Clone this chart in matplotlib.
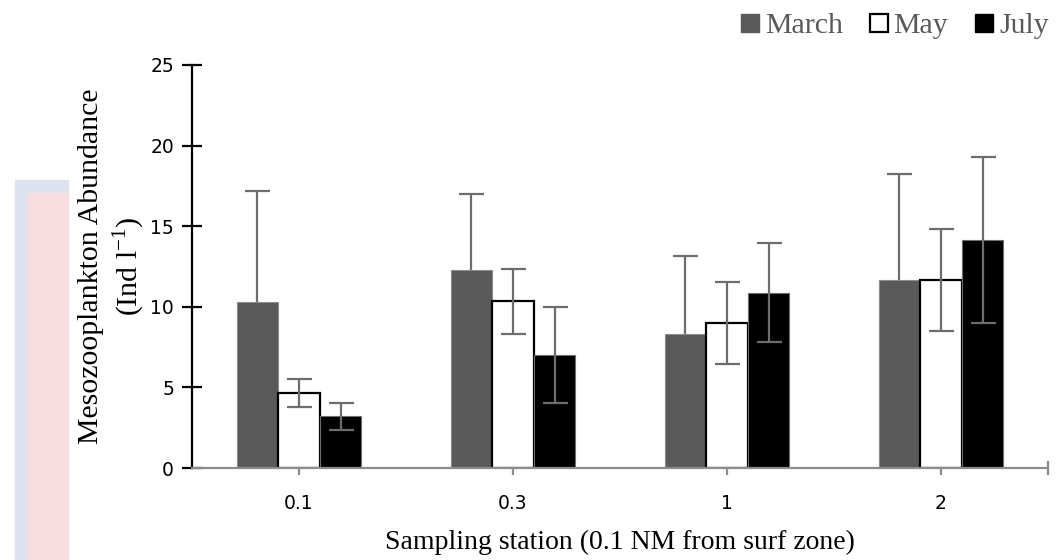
import numpy as np
import matplotlib
matplotlib.use("Agg")
import matplotlib.pyplot as plt
from matplotlib.lines import Line2D
from matplotlib.patches import Rectangle

# data
stations = ["0.1", "0.3", "1", "2"]
months = ["March", "May", "July"]
march = [10.3, 12.3, 8.3, 11.65]
march_err = [6.9, 4.7, 4.85, 6.6]
may = [4.65, 10.33, 9.0, 11.66]
may_err = [0.87, 2.03, 2.52, 3.17]
july = [3.2, 7.0, 10.88, 14.14]
july_err = [0.83, 2.96, 3.08, 5.15]

plt.rcParams['mathtext.fontset'] = 'custom'
plt.rcParams['mathtext.rm'] = 'Liberation Serif'

fig = plt.figure(figsize=(10.63, 5.6), dpi=100)

# faint watermark strip on the left
fig.patches.append(Rectangle((15/1063, 0), 53/1063, 1-180/560, transform=fig.transFigure,
                             color="#dde3ee", zorder=0))
fig.patches.append(Rectangle((27/1063, 0), 41/1063, 1-193/560, transform=fig.transFigure,
                             color="#f8dde0", zorder=0))

ax = fig.add_axes([192/1063, 1-468/560, (1048-192)/1063, (468-65)/560])
ax.patch.set_alpha(0)

x = np.arange(len(stations))
w = 0.194
ekw = dict(ecolor="#6d6d6d", elinewidth=1.6, capsize=9, capthick=1.6, zorder=3)
# March error bars sit behind the bar so only the upper half shows
ax.bar(x - w, march, w, yerr=march_err, color="#595959", edgecolor="#8c8c8c", linewidth=0.8,
       error_kw=dict(ekw, zorder=1), zorder=2)
ax.bar(x, may, w, yerr=may_err, color="white", edgecolor="black", linewidth=1.6,
       error_kw=ekw, zorder=2)
ax.bar(x + w, july, w, yerr=july_err, color="black", edgecolor="#6d6d6d", linewidth=0.8,
       error_kw=ekw, zorder=2)

ax.set_ylim(0, 25)
ax.set_xlim(-0.5, 3.5)
ax.set_yticks([0, 5, 10, 15, 20, 25])
ax.set_xticks(x)
ax.set_xticklabels(stations)
ax.set_xticks([3.5], minor=True)

for s in ["top", "right"]:
    ax.spines[s].set_visible(False)
ax.spines["left"].set_color("black")
ax.spines["left"].set_linewidth(1.6)
ax.spines["bottom"].set_color("#8c8c8c")
ax.spines["bottom"].set_linewidth(1.6)
ax.spines["bottom"].set_zorder(3)

ax.tick_params(axis="y", direction="inout", length=14, width=1.6, color="black",
               labelsize=13.5, pad=6)
ax.tick_params(axis="x", which="both", direction="inout", length=10, width=1.6,
               color="#8c8c8c", labelsize=13.5, pad=14)

ax.set_ylabel("Mesozooplankton Abundance\n(Ind l$^{\\mathregular{-1}}$)",
              family="Liberation Serif", fontsize=21.5, linespacing=1.25, labelpad=2)
ax.set_xlabel("Sampling station (0.1 NM from surf zone)", family="Liberation Serif",
              fontsize=20, labelpad=12)

handles = [
    Line2D([], [], ls="none", marker="s", ms=12.5, mfc="#595959", mec="#595959"),
    Line2D([], [], ls="none", marker="s", ms=12.5, mfc="white", mec="black", mew=1.6),
    Line2D([], [], ls="none", marker="s", ms=12.5, mfc="black", mec="black"),
]
leg = fig.legend(handles, months, loc="upper right", bbox_to_anchor=(1.012, 1.026), ncol=3,
                 frameon=False, handletextpad=0.05, columnspacing=0.75, handlelength=0.9,
                 prop={"family": "Liberation Serif", "size": 21.5})
for t in leg.get_texts():
    t.set_color("#595959")

fig.savefig("out.png", dpi=100)
